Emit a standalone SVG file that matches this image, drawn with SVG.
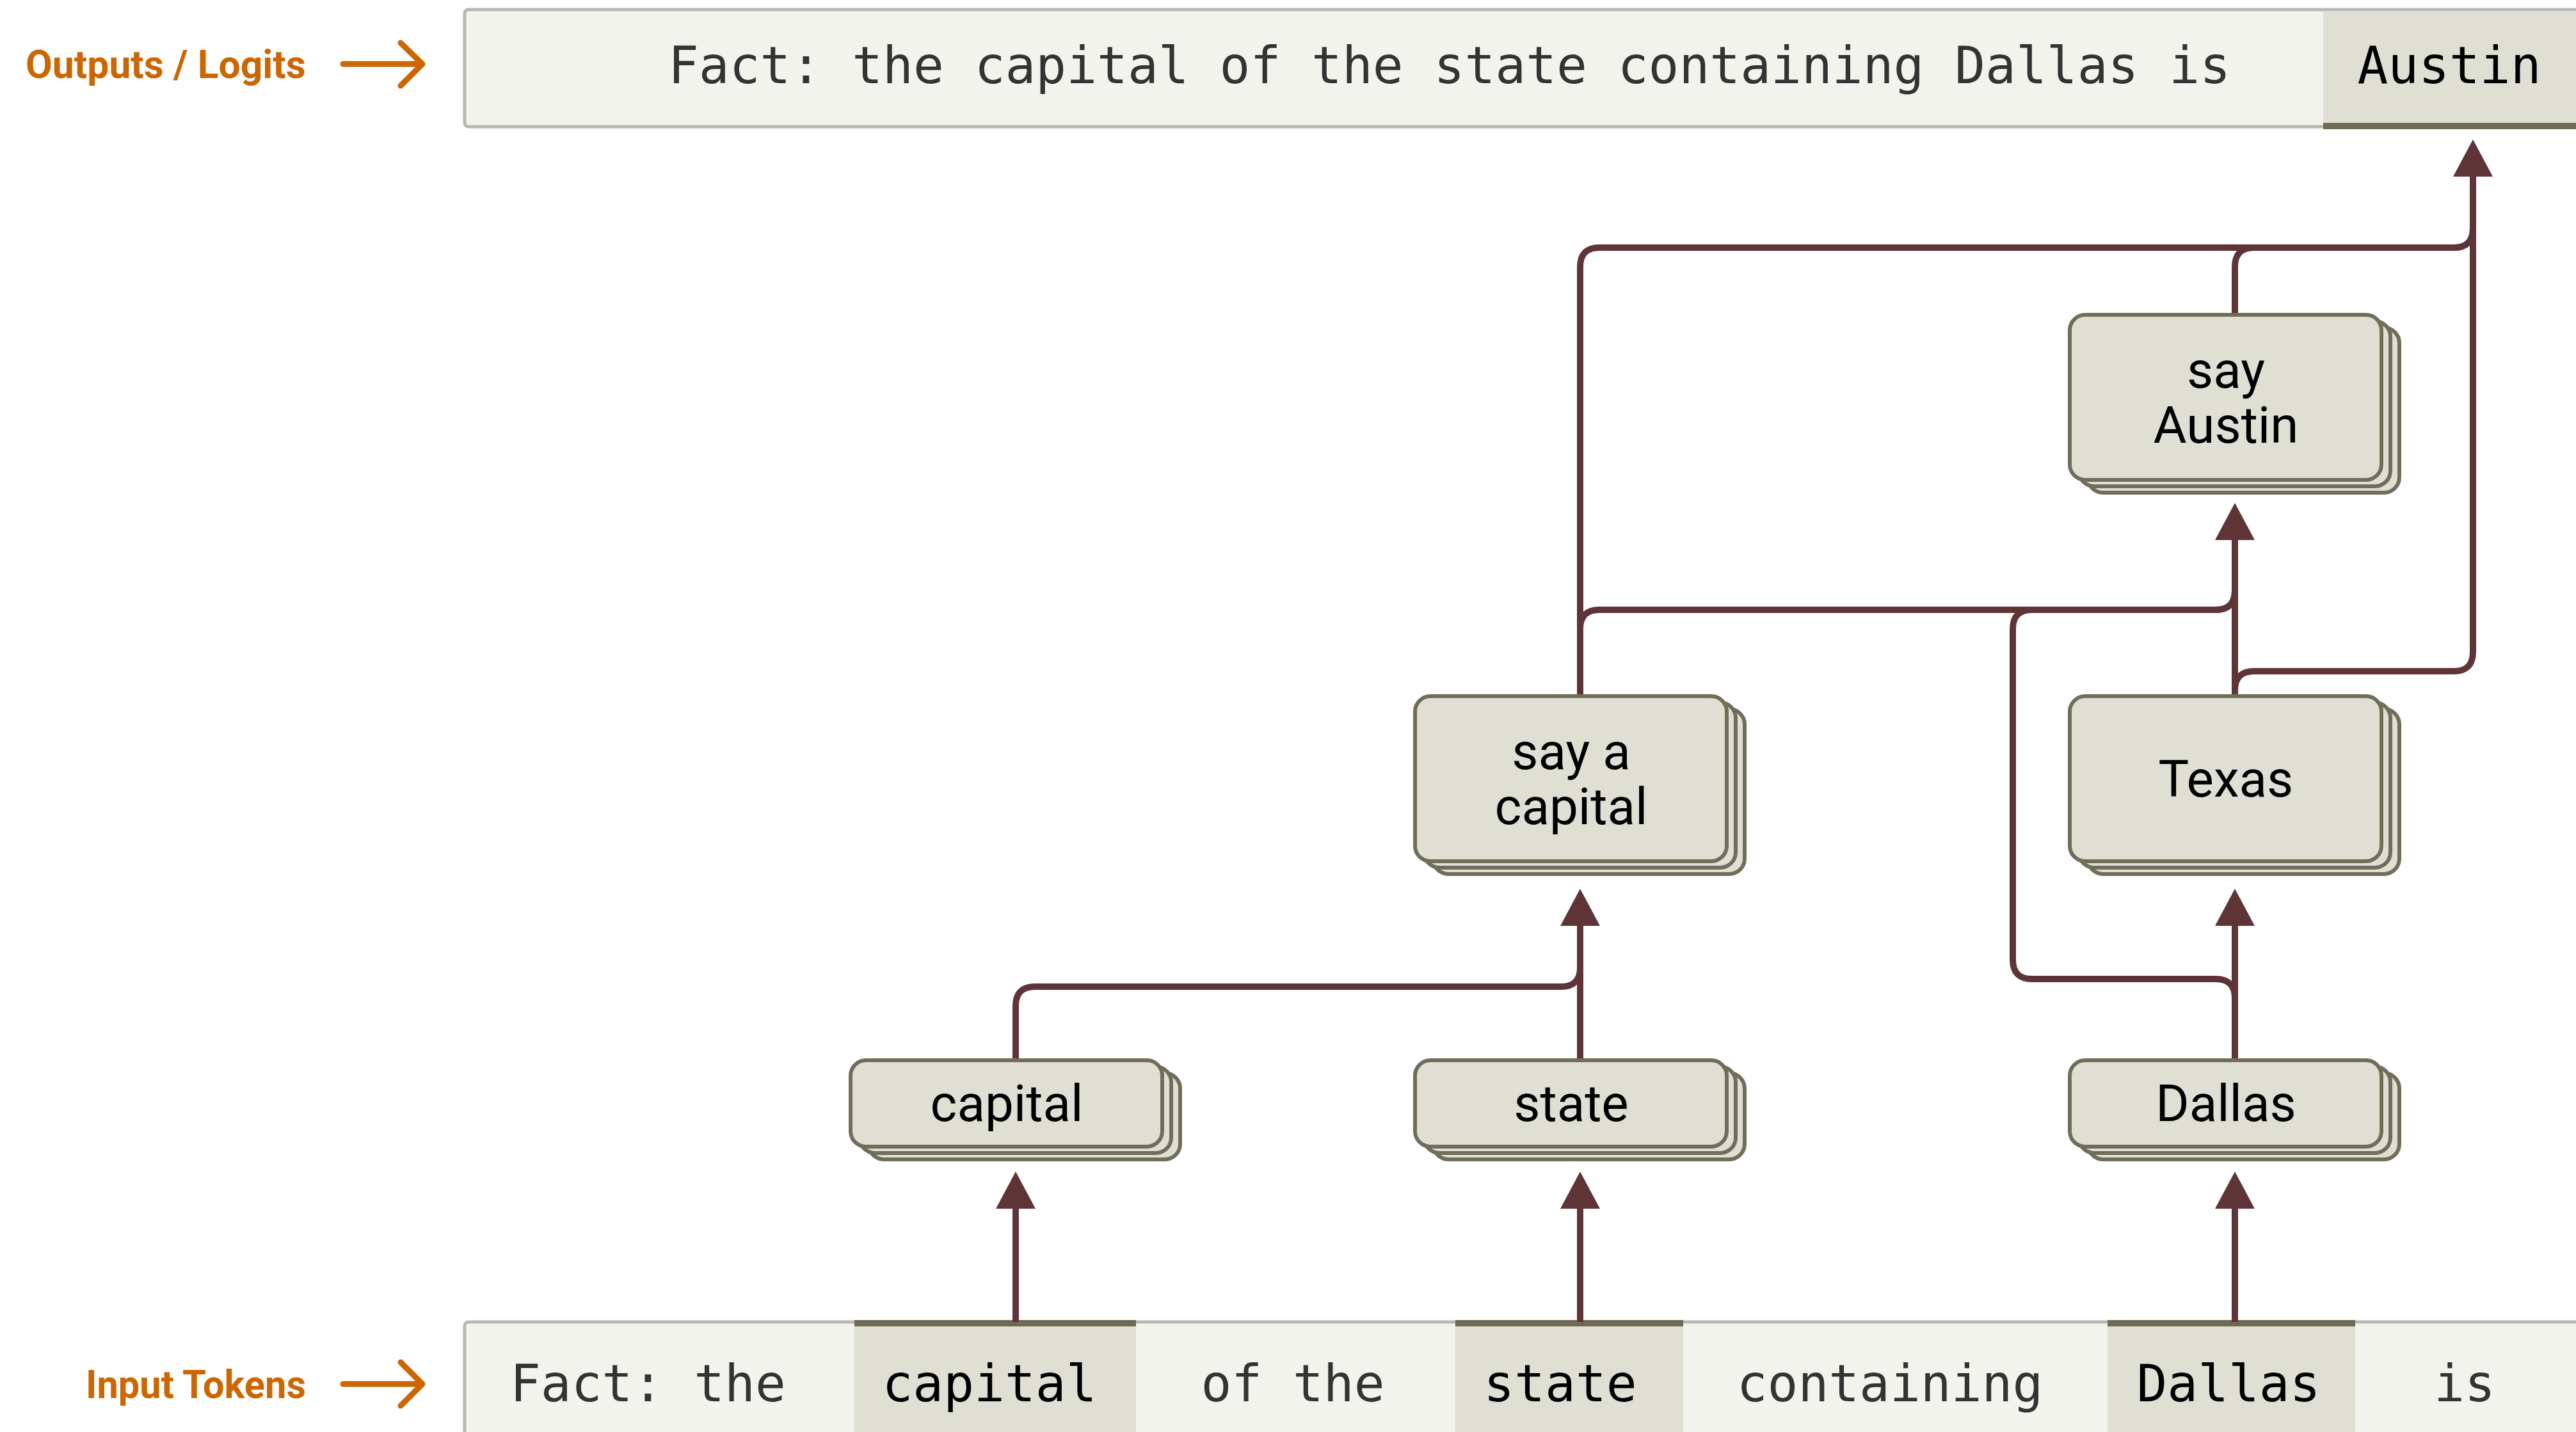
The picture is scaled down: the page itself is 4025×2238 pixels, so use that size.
<svg xmlns="http://www.w3.org/2000/svg" width="4025" height="2238" viewBox="0 0 4025 2238">
  <style>
    .bar{fill:#f3f3ee;stroke:#b8b8ad;stroke-width:5}
    .hl{fill:#e0dfd3}
    .hlb{fill:#6e6a55}
    .mono{font-family:"DejaVu Sans Mono","Liberation Mono",monospace;font-size:79.5px;fill:#333333}
    .monohl{font-family:"DejaVu Sans Mono","Liberation Mono",monospace;font-size:79.5px;fill:#000}
    .lbl{font-family:Roboto,"Liberation Sans",sans-serif;font-weight:700;font-size:62px;fill:#cc6600}
    .larr{fill:none;stroke:#cc6600;stroke-width:9;stroke-linecap:round;stroke-linejoin:round}
    .card{fill:#e0dfd4;stroke:#716d5b;stroke-width:6}
    .nt{font-family:Roboto,"Liberation Sans",sans-serif;font-size:80px;fill:#000;text-anchor:middle}
    .c{fill:none;stroke:#5f3436;stroke-width:10}
  </style>
  <defs>
    <marker id="ah" viewBox="0 0 58 62" markerWidth="58" markerHeight="62" refX="2" refY="31" orient="auto" markerUnits="userSpaceOnUse">
      <path d="M0,0 L58,31 L0,62 Z" fill="#5f3436"/>
    </marker>
  </defs>
  <rect width="4025" height="2238" fill="#ffffff"/>

  <!-- Output bar -->
  <g id="outputs">
    <rect class="bar" x="726" y="15" width="3400" height="183" rx="6"/>
    <rect class="hl" x="3630" y="18" width="400" height="176"/>
    <rect class="hlb" x="3630" y="192" width="400" height="10"/>
    <text class="mono" x="1044" y="130">Fact: the capital of the state containing Dallas is</text>
    <text class="monohl" x="3827" y="130" text-anchor="middle">Austin</text>
  </g>

  <!-- Input bar -->
  <g id="inputs">
    <rect class="bar" x="726" y="2066" width="3400" height="250" rx="6"/>
    <rect class="hl" x="1335" y="2068" width="440" height="170"/>
    <rect class="hlb" x="1335" y="2063" width="440" height="10"/>
    <rect class="hl" x="2274" y="2068" width="356" height="170"/>
    <rect class="hlb" x="2274" y="2063" width="356" height="10"/>
    <rect class="hl" x="3293" y="2068" width="387" height="170"/>
    <rect class="hlb" x="3293" y="2063" width="387" height="10"/>
    <text class="mono" x="797" y="2190">Fact: the</text>
    <text class="monohl" x="1546" y="2190" text-anchor="middle">capital</text>
    <text class="mono" x="2020" y="2190" text-anchor="middle">of the</text>
    <text class="monohl" x="2438" y="2190" text-anchor="middle">state</text>
    <text class="mono" x="2953" y="2190" text-anchor="middle">containing</text>
    <text class="monohl" x="3482" y="2190" text-anchor="middle">Dallas</text>
    <text class="mono" x="3851" y="2190" text-anchor="middle">is</text>
  </g>

  <!-- Side labels -->
  <g id="label-outputs">
    <text class="lbl" x="40" y="122" textLength="438" lengthAdjust="spacingAndGlyphs">Outputs / Logits</text>
    <path class="larr" d="M536,100 H658 M626,67 L660,100 L626,134"/>
  </g>
  <g id="label-inputs">
    <text class="lbl" x="134" y="2185" textLength="344" lengthAdjust="spacingAndGlyphs">Input Tokens</text>
    <path class="larr" d="M536,2163 H658 M626,2129 L660,2163 L626,2197"/>
  </g>

  <!-- Connectors -->
  <g id="connectors">
    <path class="c" d="M1587,2066 V1887" marker-end="url(#ah)"/>
    <path class="c" d="M2469,2066 V1887" marker-end="url(#ah)"/>
    <path class="c" d="M3492,2066 V1887" marker-end="url(#ah)"/>
    <path class="c" d="M1587,1657 V1572 Q1587,1542 1617,1542 H2439 Q2469,1542 2469,1512 V1460"/>
    <path class="c" d="M2469,1657 V1445" marker-end="url(#ah)"/>
    <path class="c" d="M3492,1657 V1445" marker-end="url(#ah)"/>
    <path class="c" d="M3492,1657 V1560 Q3492,1530 3462,1530 H3175 Q3145,1530 3145,1500 V983 Q3145,953 3175,953 H3462 Q3492,953 3492,923 V870"/>
    <path class="c" d="M2469,1088 V983 Q2469,953 2499,953 H3462 Q3492,953 3492,923 V870"/>
    <path class="c" d="M3492,1088 V842" marker-end="url(#ah)"/>
    <path class="c" d="M3492,1088 V1079 Q3492,1049 3522,1049 H3834 Q3864,1049 3864,1019 V300"/>
    <path class="c" d="M3492,492 V417 Q3492,387 3522,387 H3834 Q3864,387 3864,357 V300"/>
    <path class="c" d="M2469,1088 V417 Q2469,387 2499,387 H3834 Q3864,387 3864,357 V274" marker-end="url(#ah)"/>
  </g>

  <!-- Nodes -->
  <g id="node-say-austin">
    <rect class="card" x="3262" y="512" width="487" height="258" rx="24"/>
    <rect class="card" x="3248" y="502" width="487" height="258" rx="24"/>
    <rect class="card" x="3234" y="492" width="487" height="258" rx="24"/>
    <text class="nt" x="3478" y="606">say</text>
    <text class="nt" x="3478" y="692">Austin</text>
  </g>
  <g id="node-say-a-capital">
    <rect class="card" x="2239" y="1108" width="487" height="258" rx="24"/>
    <rect class="card" x="2225" y="1098" width="487" height="258" rx="24"/>
    <rect class="card" x="2211" y="1088" width="487" height="258" rx="24"/>
    <text class="nt" x="2455" y="1202">say a</text>
    <text class="nt" x="2455" y="1288">capital</text>
  </g>
  <g id="node-texas">
    <rect class="card" x="3262" y="1108" width="487" height="258" rx="24"/>
    <rect class="card" x="3248" y="1098" width="487" height="258" rx="24"/>
    <rect class="card" x="3234" y="1088" width="487" height="258" rx="24"/>
    <text class="nt" x="3478" y="1245">Texas</text>
  </g>
  <g id="node-capital">
    <rect class="card" x="1357" y="1677" width="487" height="135" rx="24"/>
    <rect class="card" x="1343" y="1667" width="487" height="135" rx="24"/>
    <rect class="card" x="1329" y="1657" width="487" height="135" rx="24"/>
    <text class="nt" x="1573" y="1752">capital</text>
  </g>
  <g id="node-state">
    <rect class="card" x="2239" y="1677" width="487" height="135" rx="24"/>
    <rect class="card" x="2225" y="1667" width="487" height="135" rx="24"/>
    <rect class="card" x="2211" y="1657" width="487" height="135" rx="24"/>
    <text class="nt" x="2455" y="1752">state</text>
  </g>
  <g id="node-dallas">
    <rect class="card" x="3262" y="1677" width="487" height="135" rx="24"/>
    <rect class="card" x="3248" y="1667" width="487" height="135" rx="24"/>
    <rect class="card" x="3234" y="1657" width="487" height="135" rx="24"/>
    <text class="nt" x="3478" y="1752">Dallas</text>
  </g>
</svg>
